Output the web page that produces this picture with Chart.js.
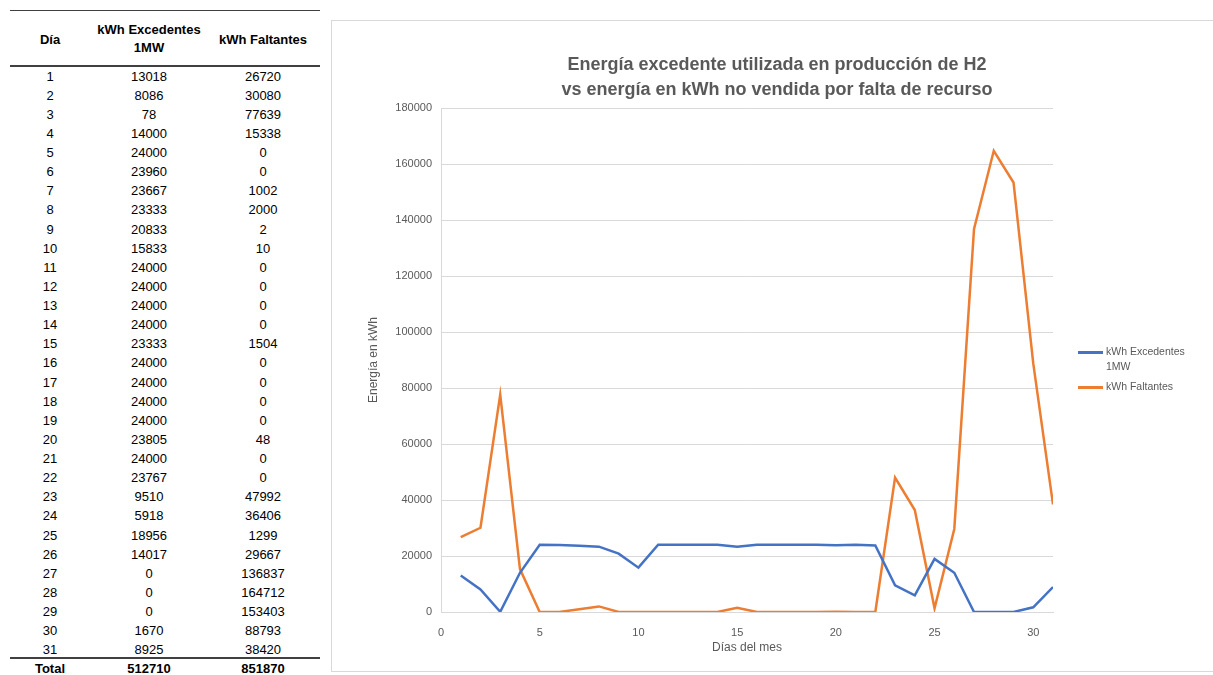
<!DOCTYPE html>
<html>
<head>
<meta charset="utf-8">
<script src="https://cdn.jsdelivr.net/npm/chart.js@4.4.0/dist/chart.umd.min.js"></script>
<style>
  body { margin: 0; background: #fff; width: 1213px; height: 675px; overflow: hidden; position: relative; font-family: "Liberation Sans", Arial, sans-serif; color: #000; }
  #tabla { position: absolute; left: 0; top: 0; width: 330px; height: 675px; }
  .cell { position: absolute; text-align: center; font-size: 13px; line-height: 19px; height: 19px; white-space: nowrap; }
  .head { font-size: 13px; }
  .hline { position: absolute; left: 10px; width: 310px; background: #404040; }
  #chartbox { position: absolute; left: 331px; top: 20px; width: 890px; height: 650px; border: 1px solid #d9d9d9; }
  #chartwrap { position: absolute; left: 332px; top: 21px; width: 880px; height: 650px; }
  .leg { position: absolute; font-size: 10.5px; color: #595959; line-height: 15px; }
  .legline { position: absolute; width: 25px; height: 2.5px; }
</style>
</head>
<body>
<div id="tabla"></div>
<div id="chartbox"></div>
<div id="chartwrap"><canvas id="myChart" width="880" height="650"></canvas></div>

<div class="legline" style="left:1078px; top:351px; background:#4472c4;"></div>
<div class="leg" style="left:1106px; top:344px;">kWh Excedentes<br>1MW</div>
<div class="legline" style="left:1078px; top:386px; background:#ed7d31;"></div>
<div class="leg" style="left:1106px; top:379px;">kWh Faltantes</div>

<script>
//DATA
const dias = [1,2,3,4,5,6,7,8,9,10,11,12,13,14,15,16,17,18,19,20,21,22,23,24,25,26,27,28,29,30,31];
const excedentes = [13018,8086,78,14000,24000,23960,23667,23333,20833,15833,24000,24000,24000,24000,23333,24000,24000,24000,24000,23805,24000,23767,9510,5918,18956,14017,0,0,0,1670,8925];
const faltantes = [26720,30080,77639,15338,0,0,1002,2000,2,10,0,0,0,0,1504,0,0,0,0,48,0,0,47992,36406,1299,29667,136837,164712,153403,88793,38420];
const totales = ["Total", "512710", "851870"];
const encabezados = ["Día", "kWh Excedentes<br>1MW", "kWh Faltantes"];

//TABLE
const tabla = document.getElementById("tabla");
const cols = [{ left: 10, width: 80 }, { left: 89, width: 120 }, { left: 208, width: 110 }];

function addCell(html, col, top, cls) {
  const d = document.createElement("div");
  d.className = "cell" + (cls ? " " + cls : "");
  d.style.left = cols[col].left + "px";
  d.style.width = cols[col].width + "px";
  d.style.top = top + "px";
  if (cls) d.style.fontWeight = "bold";
  d.innerHTML = html;
  tabla.appendChild(d);
  return d;
}
function addLine(top, h) {
  const l = document.createElement("div");
  l.className = "hline";
  l.style.top = top + "px";
  l.style.height = h + "px";
  tabla.appendChild(l);
}

addLine(10, 1);
addLine(65, 2);
addLine(657, 2);
addCell(encabezados[0], 0, 29.5, "head");
const h2 = addCell(encabezados[1], 1, 20.5, "head");
h2.style.lineHeight = "18px";
h2.style.height = "36px";
addCell(encabezados[2], 2, 29.5, "head");

dias.forEach((d, i) => {
  const top = 66.5 + i * 19.13;
  addCell(d, 0, top);
  addCell(excedentes[i], 1, top);
  addCell(faltantes[i], 2, top);
});
totales.forEach((t, i) => addCell(t, i, 658.5, "head"));

//CHART
const gris = "#595959";
const fuente = "'Liberation Sans', Arial, sans-serif";

const config = {
  type: "line",
  data: {
    labels: dias,
    datasets: [
      {
        label: "kWh Excedentes 1MW",
        data: excedentes,
        borderColor: "#4472c4",
        backgroundColor: "#4472c4",
        borderWidth: 2.5,
        pointRadius: 0,
        tension: 0,
      },
      {
        label: "kWh Faltantes",
        data: faltantes,
        borderColor: "#ed7d31",
        backgroundColor: "#ed7d31",
        borderWidth: 2.5,
        pointRadius: 0,
        tension: 0,
      },
    ],
  },
  options: {
    responsive: false,
    animation: false,
    layout: { padding: { top: 21, left: 10, right: 0, bottom: 0 } },
    plugins: {
      legend: { display: false },
      tooltip: { enabled: false },
      title: {
        display: true,
        text: [
          "Energía excedente utilizada en producción de H2",
          "vs energía en kWh no vendida por falta de recurso",
        ],
        color: gris,
        font: { family: fuente, size: 18, weight: "bold", lineHeight: 1.389 },
        padding: { top: 10.5, bottom: 5.5 },
      },
    },
    scales: {
      x: {
        type: "linear",
        min: 0,
        max: 31,
        grid: { display: false },
        border: { display: true, color: "#d9d9d9", width: 1 },
        ticks: { stepSize: 5, includeBounds: false, color: gris, padding: 6, maxRotation: 0, font: { family: fuente, size: 11 } },
        title: { display: true, text: "Días del mes", color: gris, font: { family: fuente, size: 12 }, padding: { top: 0, bottom: 16 } },
        afterFit: (s) => { s.height = 59; },
      },
      y: {
        min: 0,
        max: 180000,
        grid: { color: "#d9d9d9", lineWidth: 1, drawTicks: false },
        border: { display: true, color: "#d9d9d9", width: 1 },
        ticks: { stepSize: 20000, color: gris, padding: 9, font: { family: fuente, size: 11 }, callback: (v) => String(v) },
        title: { display: true, text: "Energía en kWh", color: gris, font: { family: fuente, size: 12 }, padding: { top: 24, bottom: 0 } },
        afterFit: (s) => { s.width = 99; },
      },
      // empty right axis that keeps room for the legend
      derecha: {
        type: "linear",
        position: "right",
        grid: { display: false },
        border: { display: false },
        ticks: { display: false },
        afterFit: (s) => { s.width = 159; },
      },
    },
  },
};

var myChart = new Chart(document.getElementById("myChart"), config);
</script>
</body>
</html>
